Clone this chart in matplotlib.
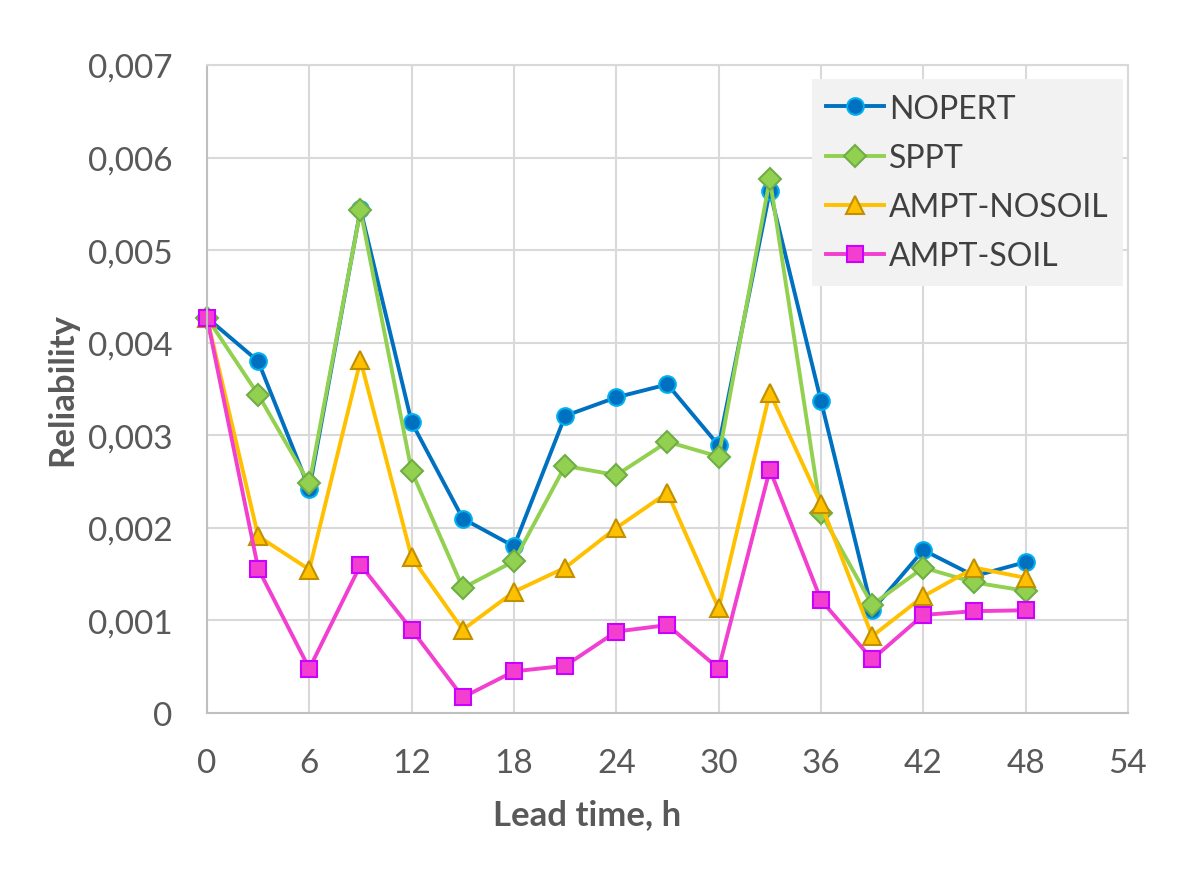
import matplotlib
matplotlib.use("Agg")
import matplotlib.pyplot as plt
from matplotlib.ticker import FuncFormatter, MultipleLocator

plt.rcParams["font.family"] = ["Lato", "DejaVu Sans"]

lead_time = [0, 3, 6, 9, 12, 15, 18, 21, 24, 27, 30, 33, 36, 39, 42, 45, 48]

nopert = [0.00427, 0.00380, 0.00242, 0.00544, 0.00314, 0.00210, 0.00180, 0.00321, 0.00341,
          0.00355, 0.00289, 0.00564, 0.00337, 0.00111, 0.00176, 0.00148, 0.00163]
sppt = [0.00427, 0.00344, 0.00248, 0.00543, 0.00261, 0.00135, 0.00164, 0.00267, 0.00257,
        0.00293, 0.00277, 0.00577, 0.00216, 0.00117, 0.00157, 0.00141, 0.00132]
ampt_nosoil = [0.00427, 0.00191, 0.00155, 0.00381, 0.00168, 0.00090, 0.00131, 0.00157, 0.00200,
               0.00238, 0.00113, 0.00346, 0.00226, 0.00083, 0.00126, 0.00157, 0.00146]
ampt_soil = [0.00427, 0.00156, 0.00048, 0.00160, 0.00090, 0.00017, 0.00045, 0.00051, 0.00088,
             0.00095, 0.00048, 0.00263, 0.00122, 0.00058, 0.00106, 0.00110, 0.00111]

series = [
    # label, values, line colour, marker, face, edge, marker size
    ("NOPERT", nopert, "#0070C0", "o", "#0070C0", "#00B0F0", 12),
    ("SPPT", sppt, "#92D050", "D", "#92D050", "#70AD47", 11),
    ("AMPT-NOSOIL", ampt_nosoil, "#FFC000", "^", "#FFC000", "#C09000", 13),
    ("AMPT-SOIL", ampt_soil, "#F23FD0", "s", "#F23FD0", "#CC00FF", 12),
]

text_color = "#595959"

fig = plt.figure(figsize=(12, 8.79), dpi=100)
ax = fig.add_axes([0.1725, 0.1877, 0.7675, 0.7372])

for label, vals, lc, mk, fc, ec, ms in series:
    ax.plot(lead_time, vals, color=lc, linewidth=2.8, marker=mk, markersize=ms,
            markerfacecolor=fc, markeredgecolor=ec, markeredgewidth=1.5, label=label,
            clip_on=False)

ax.set_xlim(0, 54)
ax.set_ylim(0, 0.007)
ax.xaxis.set_major_locator(MultipleLocator(6))
ax.yaxis.set_major_locator(MultipleLocator(0.001))


def comma_fmt(v, pos):
    if abs(v) < 1e-12:
        return "0"
    return f"{v:.3f}".replace(".", ",")


ax.yaxis.set_major_formatter(FuncFormatter(comma_fmt))

ax.grid(True, color="#d9d9d9", linewidth=1.5)
ax.set_axisbelow(True)
for side in ["top", "right"]:
    ax.spines[side].set_color("#d9d9d9")
    ax.spines[side].set_linewidth(1.5)
for side in ["left", "bottom"]:
    ax.spines[side].set_color("#bfbfbf")
    ax.spines[side].set_linewidth(1.5)

ax.tick_params(axis="both", length=0, labelsize=24, colors=text_color)
ax.tick_params(axis="y", pad=25)
ax.tick_params(axis="x", pad=25)

fig.text(587 / 1200, 1 - 815 / 879, "Lead time, h", ha="center", va="center",
         fontsize=25, fontweight="bold", color=text_color)
fig.text(62 / 1200, 1 - 390 / 879, "Reliability", ha="center", va="center",
         rotation=90, fontsize=25, fontweight="bold", color=text_color)

leg = ax.legend(loc="upper left", bbox_to_anchor=(0.657, 0.978), borderaxespad=0,
                fontsize=23, frameon=True, fancybox=False, handlelength=1.8,
                handletextpad=0.15, labelspacing=0.6, borderpad=0.45,
                labelcolor="#404040")
leg.get_frame().set_facecolor("#f2f2f2")
leg.get_frame().set_edgecolor("none")
leg.get_frame().set_alpha(1)

fig.savefig("out.png", dpi=100)
